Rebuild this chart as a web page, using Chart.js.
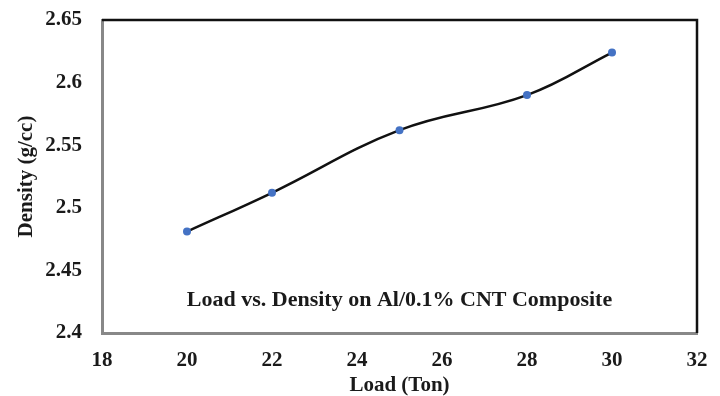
<!DOCTYPE html>
<html>
<head>
<meta charset="utf-8">
<script src="https://cdn.jsdelivr.net/npm/chart.js@4/dist/chart.umd.min.js"></script>
<style>
  html, body { margin: 0; padding: 0; background: #fff; }
  #wrap { width: 720px; height: 396px; }
</style>
</head>
<body>
<div id="wrap"><canvas id="chart"></canvas></div>
<script>
// Data
const loads = [20, 22, 25, 28, 30];
const densities = [2.481, 2.512, 2.562, 2.590, 2.624];
const xTicks = [18, 20, 22, 24, 26, 28, 30, 32];
const yTicks = [2.4, 2.45, 2.5, 2.55, 2.6, 2.65];
const chartTitle = 'Load vs. Density on Al/0.1% CNT Composite';
const xTitle = 'Load (Ton)';
const yTitle = 'Density (g/cc)';

const serif = '"Liberation Serif", "Times New Roman", serif';

// draws the top/right frame and the caption inside the plot
const framePlugin = {
  id: 'frame',
  afterDraw(chart) {
    const { ctx, chartArea: a } = chart;
    ctx.save();
    ctx.strokeStyle = '#111';
    ctx.lineWidth = 2.5;
    ctx.beginPath();
    ctx.moveTo(a.left, a.top);
    ctx.lineTo(a.right, a.top);
    ctx.lineTo(a.right, a.bottom);
    ctx.stroke();

    ctx.fillStyle = '#1a1a1a';
    ctx.font = 'bold 22px ' + serif;
    ctx.textAlign = 'center';
    ctx.textBaseline = 'middle';
    ctx.fillText(chartTitle, (a.left + a.right) / 2, 300);
    ctx.restore();
  }
};

new Chart(document.getElementById('chart'), {
  type: 'line',
  data: {
    datasets: [{
      data: loads.map((x, i) => ({ x: x, y: densities[i] })),
      borderColor: '#111',
      borderWidth: 2.5,
      tension: 0.4,
      pointRadius: 4,
      pointBackgroundColor: '#4472c4',
      pointBorderColor: '#4472c4',
      pointBorderWidth: 0
    }]
  },
  options: {
    responsive: true,
    maintainAspectRatio: false,
    animation: false,
    layout: { padding: { top: 20, right: 23, left: 0, bottom: 0 } },
    plugins: {
      legend: { display: false },
      tooltip: { enabled: false }
    },
    scales: {
      x: {
        type: 'linear',
        min: 18,
        max: 32,
        afterBuildTicks: (s) => { s.ticks = xTicks.map(v => ({ value: v })); },
        afterFit: (s) => {
          s.height = 63;
          s.paddingLeft = 0;
          s.paddingRight = 0;
        },
        grid: { display: false, drawTicks: false },
        border: { color: '#888', width: 3 },
        ticks: {
          padding: 15,
          color: '#1a1a1a',
          font: { family: serif, size: 21, weight: 'bold' }
        },
        title: {
          display: true,
          text: xTitle,
          color: '#1a1a1a',
          padding: { top: 0, bottom: 0 },
          font: { family: serif, size: 21, weight: 'bold', lineHeight: 1 }
        }
      },
      y: {
        min: 2.4,
        max: 2.65,
        afterBuildTicks: (s) => { s.ticks = yTicks.map(v => ({ value: v })); },
        afterFit: (s) => {
          s.width = 102;
          s.paddingTop = 0;
          s.paddingBottom = 0;
        },
        grid: { display: false, drawTicks: false },
        border: { color: '#888', width: 3 },
        ticks: {
          padding: 20,
          color: '#1a1a1a',
          font: { family: serif, size: 21, weight: 'bold' },
          callback: (v) => String(+v.toFixed(2))
        },
        title: {
          display: true,
          text: yTitle,
          color: '#1a1a1a',
          padding: { top: 14, bottom: 0 },
          font: { family: serif, size: 21, weight: 'bold' }
        }
      }
    }
  },
  plugins: [framePlugin]
});
</script>
</body>
</html>
